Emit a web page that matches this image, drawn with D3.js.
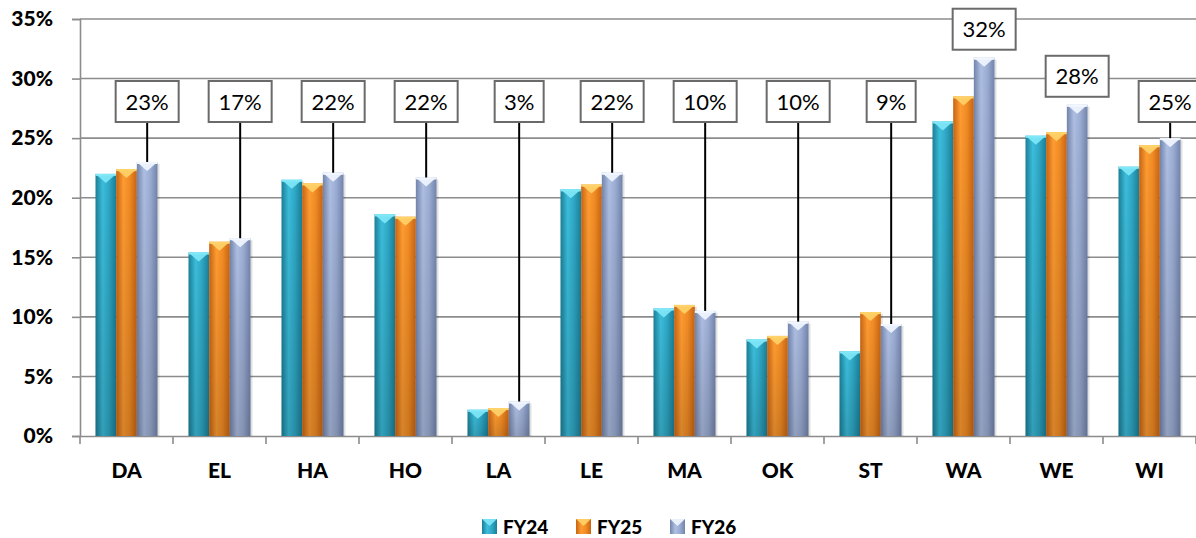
<!DOCTYPE html>
<html><head><meta charset="utf-8">
<script src="https://cdn.jsdelivr.net/npm/d3@7"></script>
<style>body{margin:0;background:#fff}svg{display:block}</style>
</head><body>
<script>
const categories = ["DA","EL","HA","HO","LA","LE","MA","OK","ST","WA","WE","WI"];
const seriesNames = ["FY24","FY25","FY26"];
const fy24 = [22.0,15.4,21.5,18.6,2.2,20.7,10.7,8.1,7.1,26.4,25.2,22.6];
const fy25 = [22.4,16.3,21.2,18.4,2.35,21.1,11.0,8.4,10.4,28.5,25.5,24.4];
const fy26 = [23.0,16.6,22.1,21.7,2.9,22.1,10.5,9.6,9.4,31.75,27.8,25.0];
const labels = ["23%","17%","22%","22%","3%","22%","10%","10%","9%","32%","28%","25%"];
const yTicks = [0,5,10,15,20,25,30,35];

const W=1196,H=538;
const svg=d3.select("body").append("svg").attr("width",W).attr("height",H);
const m={l:80,r:0,t:19,b:102};
const x=d3.scaleBand().domain(categories).range([m.l,W-m.r]).paddingInner(0).paddingOuter(0);
const xs=d3.scaleBand().domain(seriesNames).range([x.step()/6, x.step()*5/6]);
const y=d3.scaleLinear().domain([0,35]).range([H-m.b,m.t]);
const font="Lato, 'Open Sans', sans-serif";

const defs=svg.append("defs");
const pal=[
 {dark:"#1a7f97",mid:"#3cbedc",light:"#2fa8c6",cap:"#80e8f8"},
 {dark:"#c86412",mid:"#ff9c32",light:"#f28c24",cap:"#ffd36a"},
 {dark:"#7384ac",mid:"#aebfe3",light:"#9cadd4",cap:"#f2f7ff"}
];
pal.forEach((p,i)=>{
  const g=defs.append("linearGradient").attr("id","g"+i).attr("x1","0").attr("x2","1").attr("y1","0").attr("y2","0");
  g.append("stop").attr("offset","0").attr("stop-color",p.dark);
  g.append("stop").attr("offset","0.35").attr("stop-color",p.mid);
  g.append("stop").attr("offset","0.65").attr("stop-color",p.light);
  g.append("stop").attr("offset","1").attr("stop-color",p.dark);
});
const vg=defs.append("linearGradient").attr("id","vshade").attr("x1","0").attr("x2","0").attr("y1","0").attr("y2","1");
vg.append("stop").attr("offset","0").attr("stop-color","#000").attr("stop-opacity",0);
vg.append("stop").attr("offset","1").attr("stop-color","#000").attr("stop-opacity",0.16);

// grid
svg.append("g").selectAll("line").data(yTicks.filter(d=>d>0)).join("line")
 .attr("x1",m.l).attr("x2",W).attr("y1",d=>y(d)).attr("y2",d=>y(d))
 .attr("stroke","#8c8c8c").attr("stroke-width",1.6);

// y axis
const ya=svg.append("g").attr("transform",`translate(${m.l},0)`)
 .call(d3.axisLeft(y).tickValues(yTicks).tickFormat(d=>d+"%").tickSize(8).tickPadding(19));
ya.select(".domain").attr("stroke","#8c8c8c").attr("stroke-width",1.6);
ya.selectAll(".tick line").attr("stroke","#8c8c8c").attr("stroke-width",1.6);
ya.selectAll("text").attr("font-family",font).attr("font-weight","900").attr("font-size",21).attr("fill","#000");

// x axis
const xa=svg.append("g").attr("transform",`translate(0,${y(0)})`)
 .call(d3.axisBottom(x).tickSize(0).tickPadding(27));
xa.select(".domain").attr("stroke","#8c8c8c").attr("stroke-width",1.6);
xa.selectAll("text").attr("font-family",font).attr("font-weight","900").attr("font-size",21).attr("fill","#000");
xa.selectAll(".bnd").data(categories.concat(["_end"])).join("line").attr("class","bnd")
 .attr("x1",(d,i)=>m.l+i*x.step()).attr("x2",(d,i)=>m.l+i*x.step())
 .attr("y1",0).attr("y2",8).attr("stroke","#8c8c8c").attr("stroke-width",1.6);

// bars
const series=[fy24,fy25,fy26];
series.forEach((vals,si)=>{
  const g=svg.append("g");
  const bw=xs.bandwidth();
  const grp=g.selectAll("g").data(vals).join("g")
   .attr("transform",(d,i)=>`translate(${x(categories[i])+xs(seriesNames[si])},0)`);
  grp.append("rect").attr("x",2).attr("y",d=>y(d)+2).attr("width",bw).attr("height",d=>y(0)-y(d)-2)
   .attr("fill","#000").attr("opacity",0.12);
  grp.append("rect").attr("x",0).attr("y",d=>y(d)).attr("width",bw).attr("height",d=>y(0)-y(d))
   .attr("fill",`url(#g${si})`);
  grp.append("rect").attr("x",0).attr("y",d=>y(d)).attr("width",bw).attr("height",d=>y(0)-y(d))
   .attr("fill","url(#vshade)");
  grp.append("path").attr("d",d=>`M0,${y(d)}L${bw},${y(d)}L${bw/2},${y(d)+9}Z`)
   .attr("fill",pal[si].cap).attr("opacity",0.9);
  grp.append("rect").attr("x",0).attr("y",d=>y(d)).attr("width",bw).attr("height",2).attr("fill",pal[si].cap);
});

// labels
const lg=svg.append("g");
fy26.forEach((v,i)=>{
  const cx=x(categories[i])+xs("FY26")+xs.bandwidth()/2;
  const top=y(v);
  const bottom=Math.min(122, top-8);
  const bh=41, bwid=labels[i].length>2?63:49;
  if(top-bottom>10){
    lg.append("line").attr("x1",cx).attr("x2",cx).attr("y1",bottom).attr("y2",top)
     .attr("stroke","#000").attr("stroke-width",2);
  }
  lg.append("rect").attr("x",cx-bwid/2).attr("y",bottom-bh).attr("width",bwid).attr("height",bh)
   .attr("fill","#fff").attr("stroke","#6a6a6a").attr("stroke-width",2);
  lg.append("text").attr("x",cx).attr("y",bottom-bh/2+8).attr("text-anchor","middle")
   .attr("font-family",font).attr("font-size",22).attr("fill","#000").text(labels[i]);
});

// legend
const legX=[482,576,670];
const leg=svg.append("g");
seriesNames.forEach((s,i)=>{
  const gx=legX[i];
  leg.append("rect").attr("x",gx).attr("y",519).attr("width",15).attr("height",15).attr("fill",`url(#g${i})`);
  leg.append("path").attr("d",`M${gx},519L${gx+15},519L${gx+7.5},526Z`).attr("fill",pal[i].cap).attr("opacity",0.9);
  leg.append("text").attr("x",gx+21).attr("y",534).attr("font-family",font).attr("font-weight","900")
   .attr("font-size",19).attr("fill","#000").text(s);
});
</script>
</body></html>
